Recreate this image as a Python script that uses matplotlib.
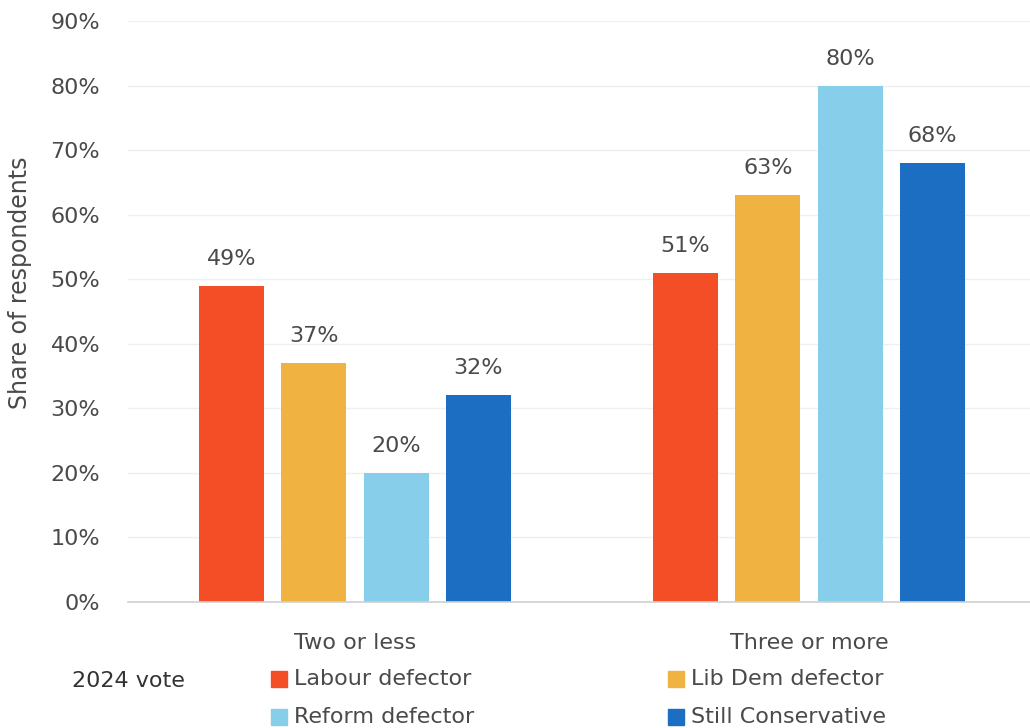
import matplotlib.pyplot as plt
import numpy as np
from matplotlib.patches import Rectangle

categories = ["Two or less", "Three or more"]
series = ["Labour defector", "Lib Dem defector", "Reform defector", "Still Conservative"]
values = {
    "Labour defector": [49, 51],
    "Lib Dem defector": [37, 63],
    "Reform defector": [20, 80],
    "Still Conservative": [32, 68],
}
colors = ["#F44E27", "#F0B342", "#87CEEB", "#1B6EC2"]
yticks = [0, 10, 20, 30, 40, 50, 60, 70, 80, 90]

plt.rcParams['font.family'] = ['DejaVu Sans']
text_color = "#4a4a4a"
fs = 16

fig = plt.figure(figsize=(10.30, 7.28), dpi=100)
ax = fig.add_axes([128 / 1030, 126 / 728, 908 / 1030, 581 / 728])

x = np.arange(len(categories))
width = 0.143
step = 0.1813
offsets = (np.arange(len(series)) - 1.5) * step

for i, name in enumerate(series):
    bars = ax.bar(x + offsets[i], values[name], width=width, color=colors[i], zorder=3)
    for rect, v in zip(bars, values[name]):
        ax.annotate(f"{v}%", (rect.get_x() + rect.get_width() / 2, v),
                    xytext=(0, 17), textcoords="offset pixels",
                    ha="center", va="bottom", fontsize=fs, color=text_color)

ax.set_xlim(-0.5, 1.5)
ax.set_ylim(0, 90)
ax.set_yticks(yticks)
ax.set_yticklabels([f"{t}%" for t in yticks])
ax.set_xticks(x)
ax.set_xticklabels(categories)
ax.tick_params(axis="y", length=0, pad=20, labelsize=fs, labelcolor=text_color)
ax.tick_params(axis="x", length=0, pad=22, labelsize=fs, labelcolor=text_color)
ax.grid(axis="y", color="#efefef", linewidth=1, zorder=0)
for s in ["top", "right", "left"]:
    ax.spines[s].set_visible(False)
ax.spines["bottom"].set_color("#d0d0d0")
ax.spines["bottom"].set_linewidth(1.2)
ax.spines["bottom"].set_zorder(4)

fig.text(20 / 1030, 1 - 283 / 728, "Share of respondents", rotation=90,
         ha="center", va="center", fontsize=fs + 1, color=text_color)

# legend drawn as a two-column grid
fig.text(72 / 1030, 1 - 681 / 728, "2024 vote", ha="left", va="center",
         fontsize=fs, color="#333333")
col_x = [271, 668]
row_y = [679, 717]
for i, name in enumerate(series):
    cx = col_x[i % 2]
    cy = row_y[i // 2]
    fig.patches.append(Rectangle((cx / 1030, 1 - (cy + 8) / 728), 16 / 1030, 16 / 728,
                                 transform=fig.transFigure, color=colors[i]))
    fig.text((cx + 23) / 1030, 1 - cy / 728, name, ha="left", va="center",
             fontsize=fs, color=text_color)

fig.savefig("out.png", dpi=100)
